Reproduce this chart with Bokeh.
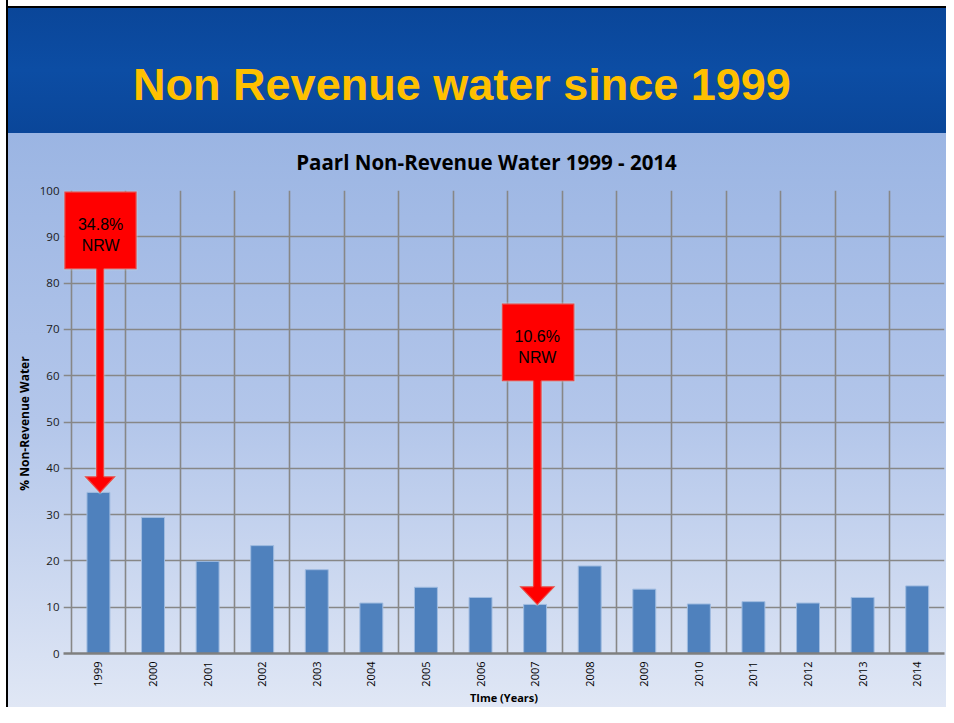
import math
from bokeh.plotting import figure
from bokeh.layouts import column
from bokeh.models import Range1d, Grid, FixedTicker, Label, PolyAnnotation
from bokeh.embed import file_html
from bokeh.resources import INLINE

# ---- data ----
years = ["1999", "2000", "2001", "2002", "2003", "2004", "2005", "2006",
         "2007", "2008", "2009", "2010", "2011", "2012", "2013", "2014"]
nrw = [34.8, 29.4, 19.9, 23.3, 18.1, 10.9, 14.3, 12.1,
       10.6, 18.9, 13.9, 10.7, 11.2, 10.9, 12.1, 14.6]
y_ticks = [0, 10, 20, 30, 40, 50, 60, 70, 80, 90, 100]
callout_years = ["1999", "2007"]

main_title = "Non Revenue water since 1999"
chart_title = "Paarl Non-Revenue Water 1999 - 2014"
x_label = "TIme (Years)"
y_label = "% Non-Revenue  Water"

W, H_TOP, H_MAIN = 946, 182, 525
FRAME_L, FRAME_R = 63, 944

x_centres = [i + 0.5 for i in range(len(years))]
x_bounds = list(range(len(years) + 1))

# ---------------- header (its frame is aligned with the chart frame by the column) ----------------
hp = figure(width=W, height=H_TOP, x_range=Range1d(FRAME_L, FRAME_R), y_range=Range1d(H_TOP, 0),
            x_axis_location=None, y_axis_location=None, min_border=0,
            min_border_left=FRAME_L, min_border_right=W - FRAME_R,
            output_backend="svg", toolbar_location=None,
            background_fill_color=None, border_fill_color=None, outline_line_color=None)
hp.grid.visible = False
hp.add_layout(Label(x=461.5, y=83.5, text=main_title, text_font="Liberation Sans",
                    text_font_style="bold", text_font_size="45px", text_color="#ffc000",
                    text_align="center", text_baseline="middle"))
hp.add_layout(Label(x=486, y=161.3, text=chart_title, text_font="Open Sans",
                    text_font_style="bold", text_font_size="20.5px", text_color="#000000",
                    text_align="center", text_baseline="middle"))

# ---------------- chart ----------------
p = figure(width=W, height=H_MAIN,
           x_range=Range1d(-0.14, len(years)),
           y_range=Range1d(0, 100),
           output_backend="svg", toolbar_location=None,
           min_border_left=FRAME_L, min_border_right=W - FRAME_R,
           min_border_top=8, min_border_bottom=53,
           background_fill_color=None, border_fill_color=None,
           outline_line_color=None)

p.xgrid.grid_line_color = None
p.ygrid.ticker = FixedTicker(ticks=y_ticks)
p.ygrid.grid_line_color = "#878787"
p.ygrid.grid_line_width = 1.5
p.add_layout(Grid(dimension=0, ticker=FixedTicker(ticks=x_bounds),
                  grid_line_color="#878787", grid_line_width=1.6))

p.vbar(x=x_centres, top=nrw, width=0.42, fill_color="#4f81bd",
       line_color="#9fbbe0", line_width=1)

xa = p.xaxis[0]
xa.ticker = FixedTicker(ticks=x_centres)
xa.major_label_overrides = {c: y for c, y in zip(x_centres, years)}
xa.axis_label = x_label
xa.axis_label_text_font = "Open Sans"
xa.axis_label_text_font_style = "bold"
xa.axis_label_text_font_size = "11px"
xa.axis_label_text_color = "#000000"
xa.axis_label_text_line_height = 0.9
xa.axis_label_standoff = 0
xa.axis_line_color = "#7f7f7f"
xa.axis_line_width = 2.5
xa.major_tick_line_color = None
xa.major_tick_out = 0
xa.major_tick_in = 0
xa.minor_tick_line_color = None
xa.minor_tick_out = 0
xa.major_label_orientation = math.pi / 2   # reads bottom-to-top
xa.major_label_standoff = 8
xa.major_label_text_font = "Open Sans"
xa.major_label_text_font_size = "11px"
xa.major_label_text_color = "#000000"

ya = p.yaxis[0]
ya.ticker = FixedTicker(ticks=y_ticks)
ya.axis_label = y_label
ya.axis_label_text_font = "Open Sans"
ya.axis_label_text_font_style = "bold"
ya.axis_label_text_font_size = "12px"
ya.axis_label_text_color = "#000000"
ya.axis_label_standoff = 4
ya.axis_line_color = None
ya.major_tick_line_color = None
ya.major_tick_out = 0
ya.major_tick_in = 0
ya.minor_tick_line_color = None
ya.minor_tick_out = 0
ya.major_label_standoff = 4
ya.major_label_text_font = "Open Sans"
ya.major_label_text_font_size = "11.5px"
ya.major_label_text_color = "#1a1a1a"

callout_geo = {
    "1999": dict(L=-0.125, R=1.20, T=99.8, B=83.0, c=0.53, s=0.075, h=0.29, hh=3.7, tx=0.54, ty=90.4),
    "2007": dict(L=7.89, R=9.22, T=75.6, B=58.8, c=8.54, s=0.08, h=0.33, hh=4.1, tx=8.54, ty=66.2),
}
for yr in callout_years:
    v = nrw[years.index(yr)]
    g = callout_geo[yr]
    tip = v - 0.2
    yh = tip + g["hh"]
    xs = [g["L"], g["R"], g["R"], g["c"] + g["s"], g["c"] + g["s"], g["c"] + g["h"], g["c"],
          g["c"] - g["h"], g["c"] - g["s"], g["c"] - g["s"], g["L"]]
    ys = [g["T"], g["T"], g["B"], g["B"], yh, yh, tip, yh, yh, g["B"], g["B"]]
    p.add_layout(PolyAnnotation(xs=xs, ys=ys, fill_color="#ff0000", fill_alpha=1.0,
                                line_color="#bfe4e0", line_width=2.5))
    p.add_layout(Label(x=g["tx"], y=g["ty"], text=f"{v}%\nNRW", text_font="Liberation Sans",
                       text_font_size="16px", text_color="#000000",
                       text_align="center", text_baseline="middle"))

layout = column(hp, p, spacing=0)
layout.styles = {
    "background": (
        "linear-gradient(to right, #ffffff 0px, #ffffff 6px, #000000 6px, #000000 8px, transparent 8px),"
        "linear-gradient(to bottom, #ffffff 0px, #ffffff 6px, #000000 6px, #000000 8px,"
        " #0a4699 8px, #0c4da4 70px, #0a4699 133px,"
        " #9bb5e3 133px, #b3c6ea 420px, #e0e7f5 100%)"
    )
}

open("out.html", "w").write(file_html(layout, INLINE))
